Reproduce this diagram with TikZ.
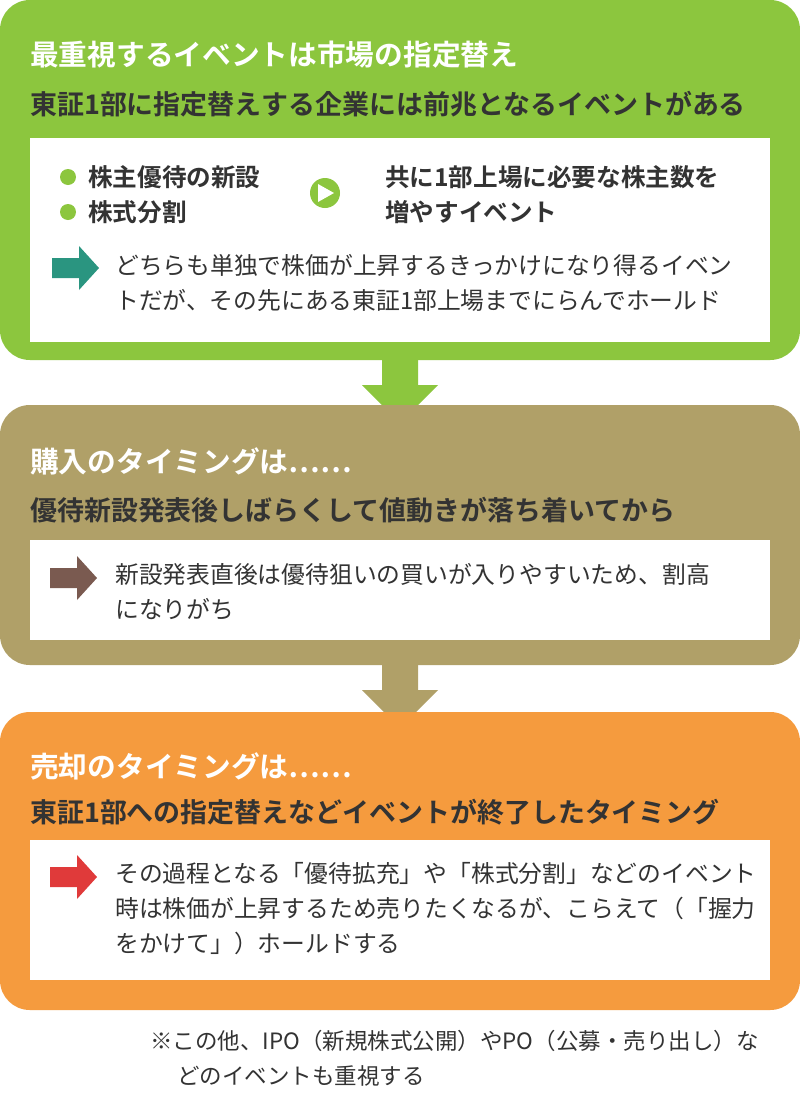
\documentclass[tikz,border=0pt]{standalone}
\usepackage{fontspec}
\setmainfont{Noto Sans CJK JP}
\newfontfamily\boldjp{Noto Sans CJK JP Bold}
\usetikzlibrary{positioning}
\definecolor{leafgreen}{HTML}{8CC63E}
\definecolor{khaki}{HTML}{B0A068}
\definecolor{tangerine}{HTML}{F59B3E}
\definecolor{tealarrow}{HTML}{2A9580}
\definecolor{brownarrow}{HTML}{7A5A50}
\definecolor{redarrow}{HTML}{E03A3A}
\definecolor{inktext}{HTML}{333333}
\newlength\unitpx
\setlength\unitpx{0.85pt}
\tikzset{
  panel/.style={rounded corners=30\unitpx, draw=none},
  card/.style={fill=white, draw=none},
  heading/.style={anchor=west, inner sep=0pt, text=white, font=\boldjp\fontsize{24.5}{28}\selectfont},
  subhead/.style={anchor=west, inner sep=0pt, text=inktext, font=\boldjp\fontsize{23}{26}\selectfont},
  bodytext/.style={anchor=north west, inner sep=0pt, text=inktext, align=left, font=\fontsize{20.3}{30}\selectfont},
  notetext/.style={bodytext, font=\fontsize{19.2}{30}\selectfont},
  bullettext/.style={anchor=west, inner sep=0pt, text=inktext, font=\boldjp\fontsize{21}{30}\selectfont},
}
\newcommand\blockarrow[3]{% colour, x, y
  \fill[#1] (#2-22,#3-10) -- (#2+5,#3-10) -- (#2+5,#3-22) -- (#2+25,#3) -- (#2+5,#3+22) -- (#2+5,#3+10) -- (#2-22,#3+10) -- cycle;}
\newcommand\stepdown[3]{% colour, x, top y
  \fill[#1] (#2-18,#3) -- (#2+18,#3) -- (#2+18,#3+30) -- (#2+38,#3+30) -- (#2,#3+68) -- (#2-38,#3+30) -- (#2-18,#3+30) -- cycle;}
\begin{document}
\begin{tikzpicture}[x=0.3mm,y=-0.3mm]
\useasboundingbox (0,0) rectangle (800,1104);
\fill[white] (0,0) rectangle (800,1104);
% green panel
\fill[leafgreen, panel] (0,0) rectangle (800,360);
\fill[card] (30,138) rectangle (770,342);
\node[heading] (greentitle) at (30,55) {最重視するイベントは市場の指定替え};
\node[subhead] (greensub) at (30,104) {東証1部に指定替えする企業には前兆となるイベントがある};
\fill[leafgreen] (68,177) circle (8);
\fill[leafgreen] (68,212) circle (8);
\node[bullettext] (perk) at (88,177) {株主優待の新設};
\node[bullettext] (split) at (88,212) {株式分割};
\fill[leafgreen] (325,193) circle (15);
\fill[white] (318,184) -- (334,193) -- (318,202) -- cycle;
\node[bullettext] (both1) at (385,177) {共に1部上場に必要な株主数を};
\node[bullettext] (both2) at (385,212) {増やすイベント};
\blockarrow{tealarrow}{74}{268}
\node[bodytext] (greenbody) at (115,254) {どちらも単独で株価が上昇するきっかけになり得るイベン\\トだが、その先にある東証1部上場までにらんでホールド};
\stepdown{leafgreen}{400}{355}
% khaki panel
\fill[khaki, panel] (0,405) rectangle (800,665);
\fill[card] (30,540) rectangle (770,640);
\node[heading] (khakititle) at (30,461) {購入のタイミングは……};
\node[subhead] (khakisub) at (30,510) {優待新設発表後しばらくして値動きが落ち着いてから};
\blockarrow{brownarrow}{72}{578}
\node[bodytext] (khakibody) at (115,563) {新設発表直後は優待狙いの買いが入りやすいため、割高\\になりがち};
\stepdown{khaki}{400}{660}
% orange panel
\fill[tangerine, panel] (0,712) rectangle (800,1010);
\fill[card] (30,840) rectangle (770,980);
\node[heading] (orangetitle) at (30,766) {売却のタイミングは……};
\node[subhead] (orangesub) at (30,812) {東証1部への指定替えなどイベントが終了したタイミング};
\blockarrow{redarrow}{72}{877}
\node[bodytext] (orangebody) at (115,862) {その過程となる「優待拡充」や「株式分割」などのイベント\\時は株価が上昇するため売りたくなるが、こらえて（「握力\\をかけて」）ホールドする};
% footnote
\node[notetext] (footnote) at (150,1030) {※この他、IPO（新規株式公開）やPO（公募・売り出し）な\\\hspace*{1.2em}どのイベントも重視する};
\end{tikzpicture}
\end{document}
